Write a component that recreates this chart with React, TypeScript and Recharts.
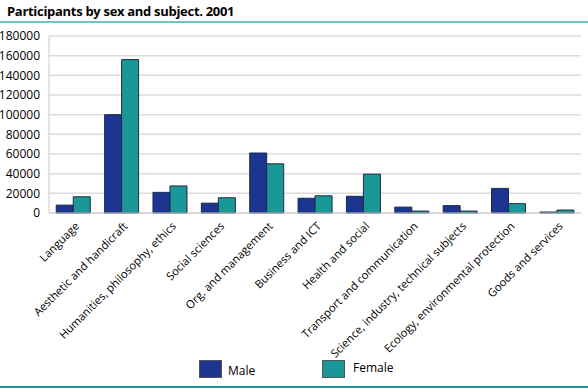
import React from 'react';
import { BarChart, Bar, XAxis, YAxis, CartesianGrid } from 'recharts';

const categories = [
  'Language',
  'Aesthetic and handicraft',
  'Humanities, philosophy, ethics',
  'Social sciences',
  'Org. and management',
  'Business and ICT',
  'Health and social',
  'Transport and communication',
  'Science, industry, technical subjects',
  'Ecology, environmental protection',
  'Goods and services',
];
const maleValues = [8000, 100000, 21000, 10000, 61000, 15000, 17000, 6000, 7500, 25000, 1000];
const femaleValues = [16500, 156000, 27500, 15500, 50000, 17500, 39500, 2000, 2000, 9500, 3000];
const yTicks = [0, 20000, 40000, 60000, 80000, 100000, 120000, 140000, 160000, 180000];
const seriesNames = ['Male', 'Female'];

const data = categories.map((name, i) => ({ name, Male: maleValues[i], Female: femaleValues[i] }));

const MALE = '#1b3590';
const FEMALE = '#1a9898';
const FONT = '"Open Sans", "DejaVu Sans", sans-serif';

const XTick = (props: any) => {
  const { x, y, payload } = props;
  return (
    <g transform={`translate(${x + 4},${y + 3})`}>
      <text x={0} y={0} dy={4} textAnchor="end" transform="rotate(-45)" fontSize={11.2} fill="#000" fontFamily={FONT}>
        {payload.value}
      </text>
    </g>
  );
};

export default function App() {
  return (
    <div style={{ position: 'absolute', left: 0, top: 0, width: 588, height: 389, background: '#fff', fontFamily: FONT }}>
      <div style={{ position: 'absolute', left: 7, top: 2, fontSize: 13, fontWeight: 700, color: '#000', whiteSpace: 'nowrap', letterSpacing: -0.3 }}>
        Participants by sex and subject. 2001
      </div>
      <div style={{ position: 'absolute', left: 0, top: 21, width: 588, height: 2, background: '#6fc3c3' }} />
      <div style={{ position: 'absolute', left: 0, top: 0 }}>
        <BarChart
          width={588}
          height={389}
          data={data}
          margin={{ top: 36, right: 7, left: 0, bottom: 51 }}
          barGap={0}
          barCategoryGap="15%"
        >
          <CartesianGrid vertical={false} stroke="#dcdcdc" strokeWidth={1.5} />
          <YAxis
            width={49}
            domain={[0, 180000]}
            ticks={yTicks}
            interval={0}
            tickLine={false}
            tickSize={0}
            tickMargin={9}
            axisLine={{ stroke: '#cccccc' }}
            tick={{ fontSize: 12, fill: '#000', fontFamily: FONT }}
          />
          <XAxis
            dataKey="name"
            interval={0}
            height={125}
            tickLine={false}
            axisLine={{ stroke: '#cccccc' }}
            tick={<XTick />}
          />
          <Bar dataKey="Male" fill={MALE} stroke="#1c2a4a" strokeWidth={1} isAnimationActive={false} />
          <Bar dataKey="Female" fill={FEMALE} stroke="#1c2a4a" strokeWidth={1} isAnimationActive={false} />
        </BarChart>
      </div>
      <div style={{ position: 'absolute', left: 199, top: 360, width: 21, height: 16, background: MALE, border: '1px solid #555' }} />
      <div style={{ position: 'absolute', left: 228, top: 362, fontSize: 12 }}>{seriesNames[0]}</div>
      <div style={{ position: 'absolute', left: 322, top: 360, width: 21, height: 16, background: FEMALE, border: '1px solid #555' }} />
      <div style={{ position: 'absolute', left: 353, top: 359, fontSize: 12 }}>{seriesNames[1]}</div>
      <div style={{ position: 'absolute', left: 0, top: 386, width: 588, height: 2, background: '#1a9898' }} />
    </div>
  );
}
